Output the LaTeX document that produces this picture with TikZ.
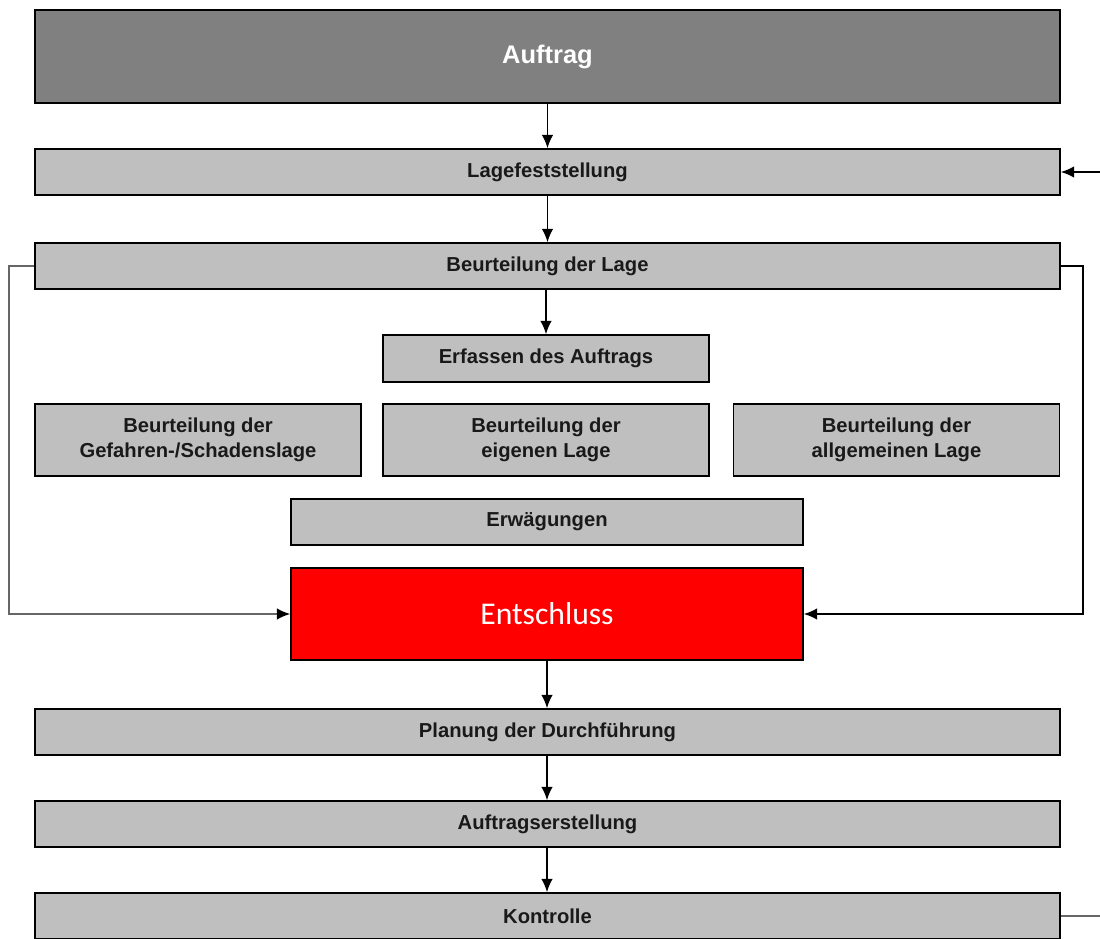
\documentclass[tikz,border=0pt]{standalone}
\usepackage{fontspec}
\setmainfont{Liberation Sans}
\newfontfamily\carlito{Carlito}
\usetikzlibrary{arrows.meta}

\begin{document}
\begin{tikzpicture}
% Lage flow chart, coordinates in pixels of the sheet
\def\pxsz{0.02cm}
\providecommand{\lageBoxFill}{black!25}
\providecommand{\lageHeadFill}{black!50}
\providecommand{\lageLineColor}{black!60}
\tikzset{
  box/.style={draw=black, line width=1pt, fill=\lageBoxFill, text=black!90,
    font=\fontsize{11.5}{14.2}\selectfont\bfseries, align=center, inner sep=0pt,
    minimum height=46*\pxsz},
  wide/.style={box, minimum width=1025*\pxsz},
  third/.style={box, minimum width=326*\pxsz, minimum height=72*\pxsz},
  arr/.style={-{Latex[length=7.5pt,width=6.5pt,color=black]}, line width=0.8pt},
  backline/.style={draw=\lageLineColor, line width=1.2pt}
}
\begin{scope}[x=\pxsz, y=-\pxsz]
  \useasboundingbox (0,0) rectangle (1100,939);
  % Boxes
  \node[box, fill=\lageHeadFill, text=white, font=\fontsize{14.5}{17}\selectfont\bfseries,
    minimum width=1025*\pxsz, minimum height=93*\pxsz] (auftrag) at (547.5,56.5) {Auftrag};
  \node[wide] (lage) at (547.5,172) {Lagefeststellung};
  \node[wide] (beurteilung) at (547.5,266) {Beurteilung der Lage};
  \node[box, minimum width=326*\pxsz, minimum height=47*\pxsz] (erfassen) at (546,358.5) {Erfassen des Auftrags};
  \node[third] (gefahren) at (198,440) {Beurteilung der\\Gefahren-/Schadenslage};
  \node[third] (eigen) at (546,440) {Beurteilung der\\eigenen Lage};
  \node[third] (allgemein) at (896.5,440) {Beurteilung der\\allgemeinen Lage};
  \node[box, minimum width=512*\pxsz] (erwaegungen) at (547,522) {Erwägungen};
  \node[box, fill=red, text=white, font=\carlito\fontsize{18}{21}\selectfont,
    minimum width=512*\pxsz, minimum height=92*\pxsz] (entschluss) at (547,614) {Entschluss};
  \node[wide] (planung) at (547.5,732) {Planung der Durchführung};
  \node[wide] (erstellung) at (547.5,824) {Auftragserstellung};
  \node[wide] (kontrolle) at (547.5,916) {Kontrolle};
  % Arrows down
  \draw[arr] (auftrag.south) -- (auftrag.south |- lage.north);
  \draw[arr] (lage.south) -- (lage.south |- beurteilung.north);
  \draw[arr] (beurteilung.south -| erfassen.north) -- (erfassen.north);
  \draw[arr] (entschluss.south) -- (entschluss.south |- planung.north);
  \draw[arr] (planung.south -| entschluss.south) -- (entschluss.south |- erstellung.north);
  \draw[arr] (erstellung.south -| entschluss.south) -- (entschluss.south |- kontrolle.north);
  % Loops into Entschluss
  \draw[arr, draw=\lageLineColor] (beurteilung.west) -- ++(-25,0) |- (entschluss.west);
  \draw[arr] (beurteilung.east) -- ++(22,0) |- (entschluss.east);
  % Return from Kontrolle
  \coordinate (rueckoben) at (1100,172);
  \coordinate (rueckunten) at (1100,916);
  \draw[arr] (lage.east -| rueckoben) -- (lage.east);
  \draw[backline] (kontrolle.east) -- (kontrolle.east -| rueckunten);
\end{scope}
\end{tikzpicture}
\end{document}
